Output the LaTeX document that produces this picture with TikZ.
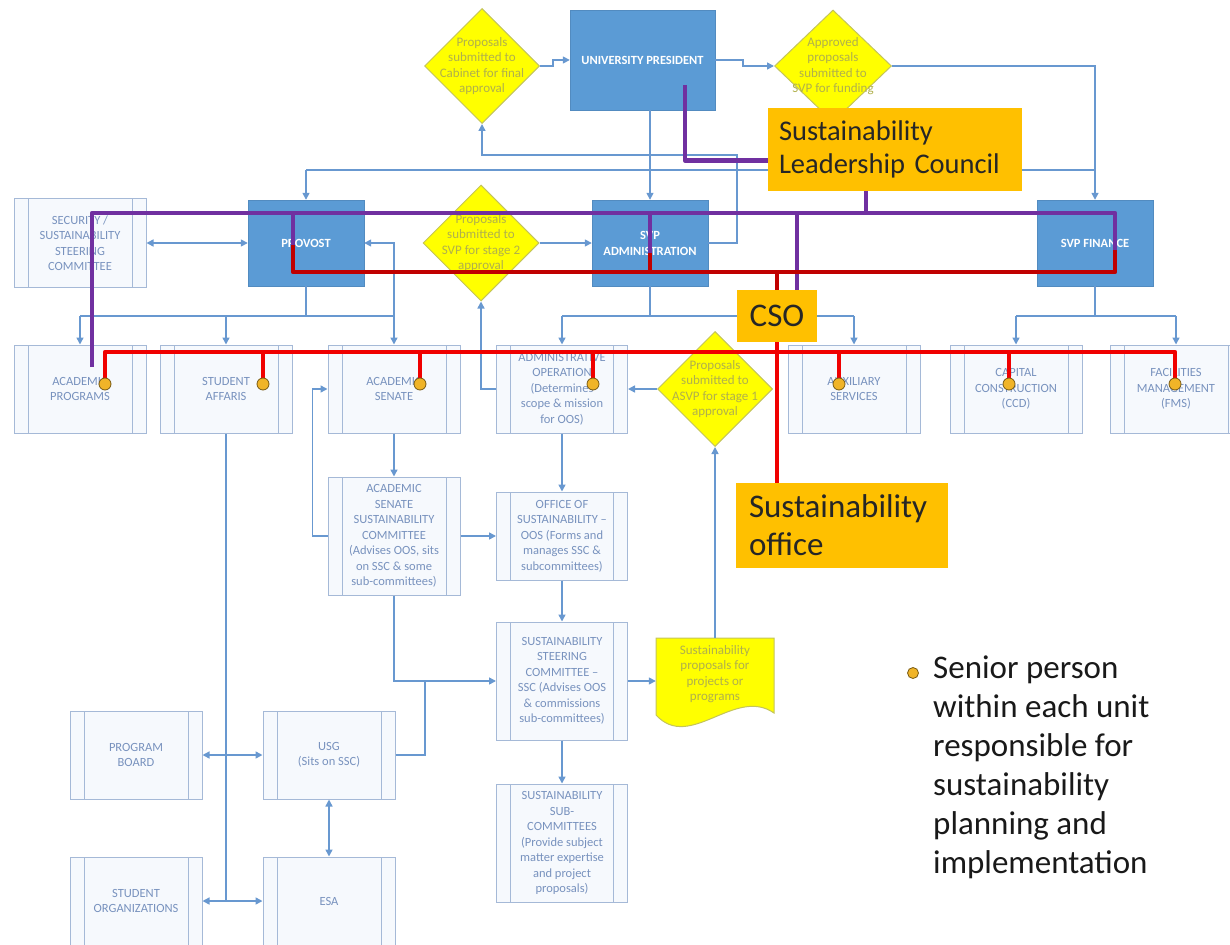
\documentclass[tikz,border=0pt]{standalone}
\usepackage{fontspec}
\setmainfont{Carlito}
\usetikzlibrary{arrows.meta,shapes.geometric}

\definecolor{conn}{RGB}{104,152,208}
\definecolor{unitline}{RGB}{165,185,215}
\definecolor{unittext}{RGB}{120,146,190}
\definecolor{unitfill}{RGB}{246,249,253}
\definecolor{execblue}{RGB}{91,155,213}
\definecolor{decfill}{RGB}{255,255,0}
\definecolor{decline}{RGB}{196,196,90}
\definecolor{dectext}{RGB}{176,176,76}
\definecolor{slcorange}{RGB}{255,192,0}
\definecolor{slcpurple}{RGB}{112,48,160}
\definecolor{darkred}{RGB}{192,0,0}
\definecolor{brightred}{RGB}{240,0,0}
\definecolor{dotfill}{RGB}{240,180,40}
\definecolor{dotline}{RGB}{120,90,20}

\tikzset{
  unit/.style={draw=unitline, fill=unitfill, line width=1pt, minimum width=132pt, minimum height=88pt,
    inner sep=1pt, align=center, text=unittext, font=\fontsize{12.5}{15.5}\selectfont,
    path picture={\draw[unitline, line width=1pt]
      ([xshift=14pt]path picture bounding box.north west) -- ([xshift=14pt]path picture bounding box.south west)
      ([xshift=-14pt]path picture bounding box.north east) -- ([xshift=-14pt]path picture bounding box.south east);}},
  exec/.style={draw=execblue!90!black, fill=execblue, minimum width=116pt, minimum height=86pt,
    align=center, text=white, font=\fontsize{12.5}{16}\selectfont\bfseries},
  decision/.style={diamond, draw=decline, fill=decfill, line width=1pt, minimum width=116pt,
    minimum height=116pt, inner sep=0pt},
  dtext/.style={align=center, text=dectext, font=\fontsize{13}{15.5}\selectfont},
  arrowline/.style={draw=conn, line width=1.5pt, -{Triangle[length=7pt,width=7pt]}},
  twoway/.style={draw=conn, line width=1.5pt, {Triangle[length=7pt,width=7pt]}-{Triangle[length=7pt,width=7pt]}},
  plainline/.style={draw=conn, line width=1.5pt},
  tagbox/.style={fill=slcorange, align=left, inner sep=0pt, text=black!85},
  purp/.style={draw=slcpurple, line width=4.5pt, line join=round},
  redA/.style={draw=darkred, line width=4.5pt, line join=round},
  redB/.style={draw=brightred, line width=4.5pt, line join=round},
  seniordot/.style={circle, draw=dotline, fill=dotfill, line width=0.8pt, minimum size=12pt, inner sep=0pt},
}

\begin{document}
\begin{tikzpicture}[x=1pt,y=-1pt]
\useasboundingbox (0,0) rectangle (1230,944);

% executive level
\node[exec, minimum width=145pt, minimum height=100pt] (pres) at (642.5,60) {UNIVERSITY PRESIDENT};
\node[decision, minimum width=115pt, minimum height=115pt, label={[dtext]center:{Proposals\\submitted to\\Cabinet for final\\approval}}] (dcab) at (482,66) {};
\node[decision, minimum width=117pt, minimum height=112pt, label={[dtext]center:{Approved\\proposals\\submitted to\\SVP for funding}}] (dfund) at (833,66) {};

\node[unit, minimum height=89pt] (sec) at (80,243) {SECURITY /\\SUSTAINABILITY\\STEERING\\COMMITTEE};
\node[exec] (prov) at (306,243) {PROVOST};
\node[decision, label={[dtext]center:{Proposals\\submitted to\\SVP for stage 2\\approval}}] (dsvp) at (481,243) {};
\node[exec] (svpa) at (650,243) {SVP\\ADMINISTRATION};
\node[exec] (svpf) at (1095,243) {SVP FINANCE};

% units
\node[unit] (acprog) at (80,389) {ACADEMIC\\PROGRAMS};
\node[unit] (stud) at (226,389) {STUDENT\\AFFARIS};
\node[unit] (acsen) at (394,389) {ACADEMIC\\SENATE};
\node[unit, minimum width=131pt] (adops) at (562,389) {ADMINISTRATIVE\\OPERATION\\(Determines\\scope \& mission\\for OOS)};
\node[decision, minimum width=115pt, minimum height=115pt, label={[dtext]center:{Proposals\\submitted to\\ASVP for stage 1\\approval}}] (dasvp) at (715,389) {};
\node[unit] (aux) at (854,389) {AUXILIARY\\SERVICES};
\node[unit] (ccd) at (1016,389) {CAPITAL\\CONSTRUCTION\\(CCD)};
\node[unit] (fms) at (1176,389) {FACILITIES\\MANAGEMENT\\(FMS)};

\node[unit, minimum height=118pt] (assc) at (394,536) {ACADEMIC\\SENATE\\SUSTAINABILITY\\COMMITTEE\\(Advises OOS, sits\\on SSC \& some\\sub-committees)};
\node[unit, minimum width=131pt] (oos) at (562,536) {OFFICE OF\\SUSTAINABILITY --\\OOS (Forms and\\manages SSC \&\\subcommittees)};
\node[unit, minimum width=131pt, minimum height=118pt] (ssc) at (562,681) {SUSTAINABILITY\\STEERING\\COMMITTEE --\\SSC (Advises OOS\\\& commissions\\sub-committees)};
\node[unit, minimum width=131pt, minimum height=118pt] (subc) at (562,843) {SUSTAINABILITY\\SUB-\\COMMITTEES\\(Provide subject\\matter expertise\\and project\\proposals)};

% proposal document
\draw[draw=decline, fill=decfill, line width=1pt] (656,638) -- (774,638) -- (774,713)
  .. controls (735,686) and (690,752) .. (656,715) -- cycle;
\node[dtext, minimum width=118pt, minimum height=72pt, inner sep=0pt] (doc) at (715,674) {Sustainability\\proposals for\\projects or\\programs};

% student side
\node[unit] (pboard) at (136,755) {PROGRAM\\BOARD};
\node[unit] (usg) at (329,755) {USG\\(Sits on SSC)};
\node[unit] (sorg) at (136,901) {STUDENT\\ORGANIZATIONS};
\node[unit] (esa) at (329,901) {ESA};

% connectors
\draw[arrowline] (dcab.east) -- ++(13,0) |- (pres.west);
\draw[arrowline] (pres.east) -- ++(28,0) |- (dfund.west);
\draw[arrowline] (dfund.east) -| (svpf.north);
\draw[arrowline] (pres.south -| svpa.north) -- (svpa.north);
\draw[plainline] (prov.north |- 0,170) -- (svpf.north |- 0,170);
\draw[arrowline] (prov.north |- 0,170) -- (prov.north);
\draw[arrowline] (svpa.east) -- (737,243) -- (737,155) -| (dcab.south);

\draw[twoway] (sec.east) -- (prov.west);
\draw[arrowline] (dsvp.east) -- (svpa.west);
\draw[arrowline] (adops.west) -| (dsvp.south);
\draw[arrowline] (acsen.north |- 0,316) |- (prov.east);

\draw[plainline] (prov.south) -- (prov.south |- 0,316);
\draw[plainline] (acprog.north |- 0,316) -- (acsen.north |- 0,316);
\foreach \u in {acprog,stud,acsen}
  \draw[arrowline] (\u.north |- 0,316) -- (\u.north);
\draw[plainline] (svpa.south) -- (svpa.south |- 0,316);
\draw[plainline] (adops.north |- 0,316) -- (aux.north |- 0,316);
\foreach \u in {adops,aux}
  \draw[arrowline] (\u.north |- 0,316) -- (\u.north);
\draw[plainline] (svpf.south) -- (svpf.south |- 0,316);
\draw[plainline] (ccd.north |- 0,316) -- (fms.north |- 0,316);
\foreach \u in {ccd,fms}
  \draw[arrowline] (\u.north |- 0,316) -- (\u.north);

\draw[arrowline] (dasvp.west) -- (adops.east);
\draw[arrowline] (acsen.south) -- (assc.north);
\draw[arrowline] (assc.west) -- ++(-15,0) |- (acsen.west);
\draw[arrowline] (assc.east) -- (oos.west);
\draw[arrowline] (adops.south) -- (oos.north);
\draw[arrowline] (oos.south) -- (ssc.north);
\draw[arrowline] (assc.south) |- (ssc.west);
\draw[plainline] (usg.east) -| (425,681);
\draw[arrowline] (ssc.east) -- (ssc.east -| doc.west);
\draw[arrowline] (doc.north) -- (dasvp.south);
\draw[arrowline] (ssc.south) -- (subc.north);

\draw[plainline] (stud.south) -- (stud.south |- sorg.east);
\draw[twoway] (pboard.east) -- (usg.west);
\draw[twoway] (sorg.east) -- (esa.west);
\draw[twoway] (usg.south) -- (esa.north);

% sustainability overlay
\node[tagbox, minimum width=254pt, minimum height=83pt, text width=232pt, font=\fontsize{28.5}{33}\selectfont] (slc) at (895,149.5) {Sustainability\\Leadership Council};
\node[tagbox, minimum width=80pt, minimum height=52pt, align=center, font=\fontsize{33}{36}\selectfont] (cso) at (777,316) {CSO};
\node[tagbox, minimum width=212pt, minimum height=85pt, text width=186pt, font=\fontsize{33}{38}\selectfont] (soff) at (842,525.5) {Sustainability\\office};

\coordinate (pp) at (685,85);
\draw[purp] (pp) |- ([yshift=-11pt]slc.west);
\draw[purp] (slc.south -| 866,0) -- (866,213);
\draw[purp] (92,367) -- (92,213) -- (1115,213) -- (1115,252);
\draw[purp] (293,213) -- (293,245);
\draw[purp] (650,213) -- (650,253);
\draw[purp] (797,213) -- (cso.north -| 797,0);

\draw[redA] (293,245) -- (293,272) -- (1115,272) -- (1115,250);
\draw[redA] (650,253) -- (650,272);
\draw[redA] (777,272) -- (cso.north -| 777,0);

\draw[redB] (cso.south) -- (cso.south |- soff.north);
\draw[redB] (105,383) -- (105,352) -- (1175,352) -- (1175,383);
\foreach \x in {263,420,593,839,1009}
  \draw[redB] (\x,352) -- (\x,383);
\foreach \x [count=\i] in {105,263,420,593,839,1009,1175}
  \node[seniordot] (sd\i) at (\x,384) {};

% key
\node[seniordot, minimum size=11pt] (key) at (913,673) {};
\node[anchor=north west, align=left, inner sep=0pt, text=black!90, font=\fontsize{33}{39}\selectfont] (keytext) at (933,656) {Senior person\\within each unit\\responsible for\\sustainability\\planning and\\implementation};
\end{tikzpicture}
\end{document}
